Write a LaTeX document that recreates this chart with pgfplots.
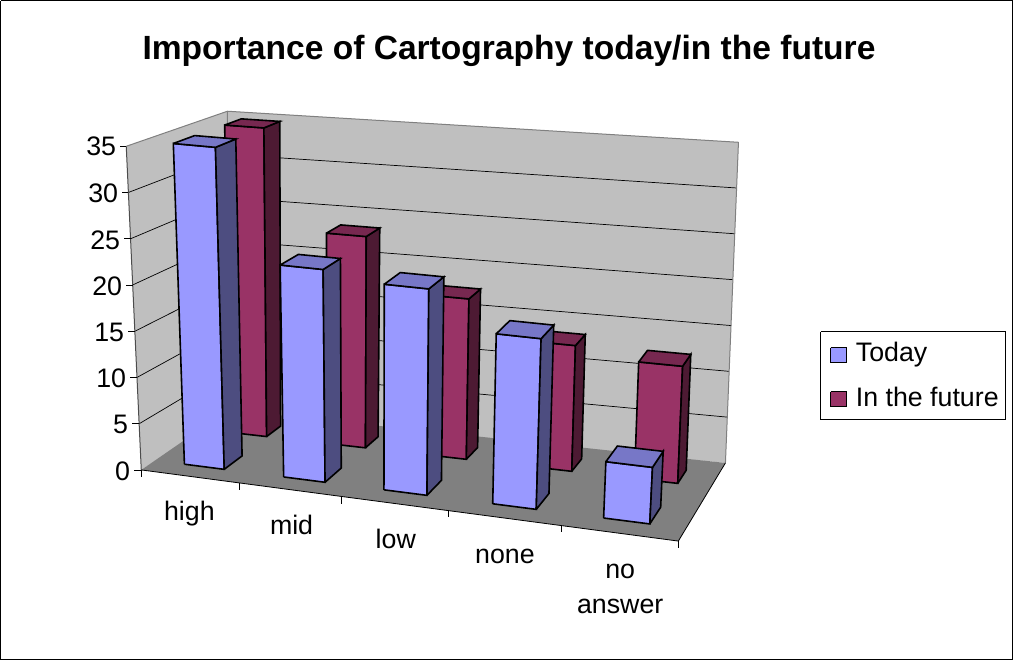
\documentclass[border=0pt]{standalone}
\usepackage{pgfplots}
\pgfplotsset{compat=1.18}
\usepackage{fontspec}
\setmainfont{Liberation Sans}
\definecolor{tf}{HTML}{9999FF}\definecolor{ts}{HTML}{4D4D80}\definecolor{tt}{HTML}{7777C7}
\definecolor{ff}{HTML}{993366}\definecolor{fs}{HTML}{4D1A33}\definecolor{ft}{HTML}{772850}
\pgfplotsset{
  barface/.style={draw=black,line width=1.6pt,line join=miter,mark=none},
  /pgfplots/table/projected/.style={/pgfplots/table/row sep=\\,
    /pgfplots/table/x expr={(1-\thisrow{v}/35)*(142+536*\thisrow{s}+87*\thisrow{d}-40*\thisrow{s}*\thisrow{d})+(\thisrow{v}/35)*(127+570*\thisrow{s}+101*\thisrow{d}-60*\thisrow{s}*\thisrow{d})},
    /pgfplots/table/y expr={(1-\thisrow{v}/35)*(470+71*\thisrow{s}-59*\thisrow{d}-19*\thisrow{s}*\thisrow{d})+(\thisrow{v}/35)*(147+55*\thisrow{s}-35*\thisrow{d}-24*\thisrow{s}*\thisrow{d})}},
  grid line/.style={black,line width=0.7pt,mark=none},
  frame line/.style={color=gray,line width=1pt,mark=none}
}
% #1 s-left, #2 s-right, #3 d-front, #4 d-back, #5 value, #6 #7 #8 colours
\newcommand\threedbar[8]{%
  \addplot[barface,fill=#6] table[projected] {s d v\\ #1 #3 0\\ #2 #3 0\\ #2 #3 #5\\ #1 #3 #5\\ #1 #3 0\\};
  \addplot[barface,fill=#7] table[projected] {s d v\\ #2 #3 0\\ #2 #4 0\\ #2 #4 #5\\ #2 #3 #5\\ #2 #3 0\\};
  \addplot[barface,fill=#8] table[projected] {s d v\\ #1 #3 #5\\ #2 #3 #5\\ #2 #4 #5\\ #1 #4 #5\\ #1 #3 #5\\};
}
\begin{document}
\begin{tikzpicture}
\begin{axis}[
  scale only axis,width=1013pt,height=661pt,
  xmin=0,xmax=1013,ymin=0,ymax=661,y dir=reverse,
  hide axis,clip=false]
% frame
\addplot[black,line width=1pt,mark=none] coordinates {(1.5,1.5)(1011.5,1.5)(1011.5,659.5)(1.5,659.5)(1.5,1.5)};
% walls
\addplot[fill=black!25,draw=none,mark=none] coordinates {(142,470)(127,147)(228,112)(738,143)(725,463)(229,414)(142,470)};
% grid lines
\addplot[grid line] coordinates {(139.9,423.9)(228.9,370.9)(726.9,417.3)};
\addplot[grid line] coordinates {(137.7,377.7)(228.7,327.7)(728.7,371.6)};
\addplot[grid line] coordinates {(135.6,331.6)(228.6,284.6)(730.6,325.9)};
\addplot[grid line] coordinates {(133.4,285.4)(228.4,241.4)(732.4,280.1)};
\addplot[grid line] coordinates {(131.3,239.3)(228.3,198.3)(734.3,234.3)};
\addplot[grid line] coordinates {(129.1,193.1)(228.1,155.1)(736.1,188.6)};
\addplot[frame line] coordinates {(127,147)(228,112)(738,143)(725,463)};
\addplot[frame line] coordinates {(228,112)(229,410)};
% floor
\addplot[fill=black!50,draw=none,mark=none] coordinates {(142,470)(678,541)(725,463)(229,410)(142,470)};
\addplot[black,line width=0.8pt,mark=none] coordinates {(725,463)(678,541)(142,470)};
% value axis
\addplot[black!70,line width=1pt,mark=none] coordinates {(127,147)(142,470)};
\addplot[black,line width=0.8pt,mark=none] coordinates {(142,470)(142,477)};
\addplot[black,line width=0.8pt,mark=none] coordinates {(240,483)(240,490)};
\addplot[black,line width=0.8pt,mark=none] coordinates {(342,497)(342,504)};
\addplot[black,line width=0.8pt,mark=none] coordinates {(449,510)(449,517)};
\addplot[black,line width=0.8pt,mark=none] coordinates {(561,525)(561,532)};
\addplot[black,line width=0.8pt,mark=none] coordinates {(678,541)(678,548)};
\addplot[black,line width=0.8pt,mark=none] coordinates {(121,147)(127,147)};
\addplot[black,line width=0.8pt,mark=none] coordinates {(123,193.1)(129.1,193.1)};
\addplot[black,line width=0.8pt,mark=none] coordinates {(125,239.3)(131.3,239.3)};
\addplot[black,line width=0.8pt,mark=none] coordinates {(127,285.4)(133.4,285.4)};
\addplot[black,line width=0.8pt,mark=none] coordinates {(129,331.6)(135.6,331.6)};
\addplot[black,line width=0.8pt,mark=none] coordinates {(131,377.7)(137.7,377.7)};
\addplot[black,line width=0.8pt,mark=none] coordinates {(133,423.9)(139.9,423.9)};
\addplot[black,line width=0.8pt,mark=none] coordinates {(135,470)(142,470)};
% In the future
\threedbar{.054}{.128}{.69}{.86}{34.9}{ff}{fs}{ft}
\threedbar{.246}{.322}{.69}{.86}{23.6}{ff}{fs}{ft}
\threedbar{.438}{.520}{.69}{.86}{17.7}{ff}{fs}{ft}
\threedbar{.645}{.727}{.69}{.86}{13.7}{ff}{fs}{ft}
\threedbar{.850}{.935}{.69}{.86}{12.6}{ff}{fs}{ft}
% Today
\threedbar{.055}{.130}{.16}{.378}{35}{tf}{ts}{tt}
\threedbar{.242}{.320}{.16}{.378}{22.9}{tf}{ts}{tt}
\threedbar{.431}{.512}{.16}{.378}{22}{tf}{ts}{tt}
\threedbar{.636}{.718}{.16}{.378}{18}{tf}{ts}{tt}
\threedbar{.845}{.932}{.16}{.378}{5.9}{tf}{ts}{tt}
% legend
\addplot[black,fill=white,line width=0.8pt,mark=none] coordinates {(820,332)(1004,332)(1004,420)(820,420)(820,332)};
\addplot[black,fill=tf,line width=1.2pt,mark=none] coordinates {(830,348)(846,348)(846,363)(830,363)(830,348)};
\addplot[black,fill=ff,line width=1.2pt,mark=none] coordinates {(830,392)(846,392)(846,407)(830,407)(830,392)};
\node[anchor=base west,inner sep=0] at (axis cs:855,362) {\fontsize{26.7}{30}\selectfont Today};
\node[anchor=base west,inner sep=0] at (axis cs:855,407) {\fontsize{26.7}{30}\selectfont In the future};
% title
\node[anchor=base,inner sep=0] at (axis cs:509,60) {\fontsize{33.5}{36}\selectfont\bfseries Importance of Cartography today/in the future};
% value tick labels
\node[anchor=east,inner sep=0] at (axis cs:117,147) {\fontsize{26.7}{30}\selectfont 35};
\node[anchor=east,inner sep=0] at (axis cs:119,194) {\fontsize{26.7}{30}\selectfont 30};
\node[anchor=east,inner sep=0] at (axis cs:121,241) {\fontsize{26.7}{30}\selectfont 25};
\node[anchor=east,inner sep=0] at (axis cs:123,287) {\fontsize{26.7}{30}\selectfont 20};
\node[anchor=east,inner sep=0] at (axis cs:125,333) {\fontsize{26.7}{30}\selectfont 15};
\node[anchor=east,inner sep=0] at (axis cs:127,379) {\fontsize{26.7}{30}\selectfont 10};
\node[anchor=east,inner sep=0] at (axis cs:129,425) {\fontsize{26.7}{30}\selectfont 5};
\node[anchor=east,inner sep=0] at (axis cs:131,471) {\fontsize{26.7}{30}\selectfont 0};
% category labels
\node[inner sep=0,anchor=base] at (axis cs:190,520) {\fontsize{26.7}{30}\selectfont high};
\node[inner sep=0,anchor=base] at (axis cs:292,534) {\fontsize{26.7}{30}\selectfont mid};
\node[inner sep=0,anchor=base] at (axis cs:396,548) {\fontsize{26.7}{30}\selectfont low};
\node[inner sep=0,anchor=base] at (axis cs:505,563) {\fontsize{26.7}{30}\selectfont none};
\node[inner sep=0,anchor=base] at (axis cs:620,578) {\fontsize{26.7}{30}\selectfont no};
\node[inner sep=0,anchor=base] at (axis cs:620,613) {\fontsize{26.7}{30}\selectfont answer};
\end{axis}
\end{tikzpicture}
\end{document}
